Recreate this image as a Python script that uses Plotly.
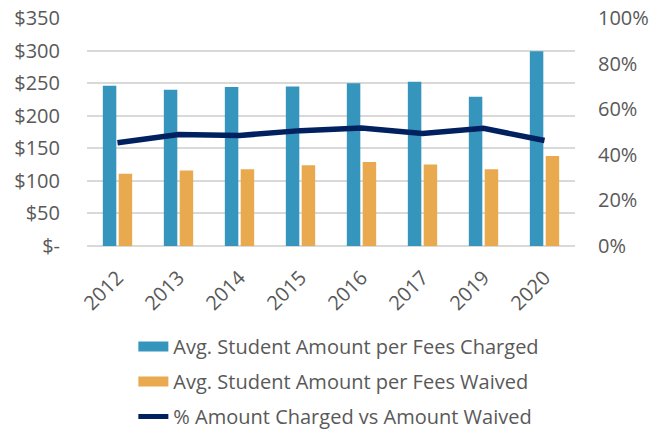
import plotly.graph_objects as go

years = ["2012", "2013", "2014", "2015", "2016", "2017", "2019", "2020"]
charged = [246, 240, 244, 245, 250, 252, 229, 299]
waived = [111, 116, 118, 124, 129, 125, 118, 138]
pct = [0.453, 0.489, 0.485, 0.506, 0.518, 0.494, 0.516, 0.463]

left_ticks = [0, 50, 100, 150, 200, 250, 300, 350]
left_text = ["$-", "$50", "$100", "$150", "$200", "$250", "$300", "$350"]
right_ticks = [0, 0.2, 0.4, 0.6, 0.8, 1.0]
right_text = ["0%", "20%", "40%", "60%", "80%", "100%"]

names = ["Avg. Student Amount per Fees Charged",
         "Avg. Student Amount per Fees Waived",
         "% Amount Charged vs Amount Waived"]

c_blue = "#3595BC"
c_orange = "#E8A94F"
c_navy = "#002060"
txt = "#595959"
font = "Open Sans"

fig = go.Figure()
fig.add_trace(go.Bar(x=years, y=charged, name=names[0], marker_color=c_blue,
                     marker_line_width=0, showlegend=False))
fig.add_trace(go.Bar(x=years, y=waived, name=names[1], marker_color=c_orange,
                     marker_line_width=0, showlegend=False))
fig.add_trace(go.Scatter(x=years, y=pct, name=names[2], mode="lines",
                         line=dict(color=c_navy, width=5.5), yaxis="y2", showlegend=False))
# legend entries
fig.add_trace(go.Scatter(x=[None], y=[None], name=names[0], mode="lines",
                         legendgroup="a", line=dict(color=c_blue, width=12)))
fig.add_trace(go.Scatter(x=[None], y=[None], name=names[1], mode="lines",
                         legendgroup="b", line=dict(color=c_orange, width=12)))
fig.add_trace(go.Scatter(x=[None], y=[None], name=names[2], mode="lines",
                         legendgroup="c", line=dict(color=c_navy, width=5)))

fig.update_layout(
    width=664, height=430,
    margin=dict(l=87, r=89, t=18, b=184, autoexpand=False),
    paper_bgcolor="white", plot_bgcolor="white",
    font=dict(family=font, size=20, color=txt),
    barmode="group", bargap=0.48, bargroupgap=0.15,
    xaxis=dict(tickangle=-45, ticks="outside", ticklen=11, tickcolor="rgba(0,0,0,0)",
               showgrid=False, showline=False, zeroline=False, automargin=False),
    yaxis=dict(range=[0, 350], tickvals=left_ticks, ticktext=left_text,
               showgrid=True, gridcolor="#D9D9D9", gridwidth=1.5, zeroline=True,
               zerolinecolor="#D9D9D9", zerolinewidth=1.5, automargin=False,
               ticks="outside", ticklen=22, tickcolor="rgba(0,0,0,0)"),
    yaxis2=dict(range=[0, 1], tickvals=right_ticks, ticktext=right_text,
                overlaying="y", side="right", showgrid=False, zeroline=False,
                automargin=False,
                ticks="outside", ticklen=18, tickcolor="rgba(0,0,0,0)"),
    legend=dict(x=0.095, y=-0.355, xanchor="left", yanchor="top",
                orientation="v", font=dict(size=20, color=txt),
                tracegroupgap=6, bgcolor="rgba(0,0,0,0)"),
)

fig.write_html("out.html", config={"displayModeBar": False},
               post_script="document.body.style.margin='0';")
